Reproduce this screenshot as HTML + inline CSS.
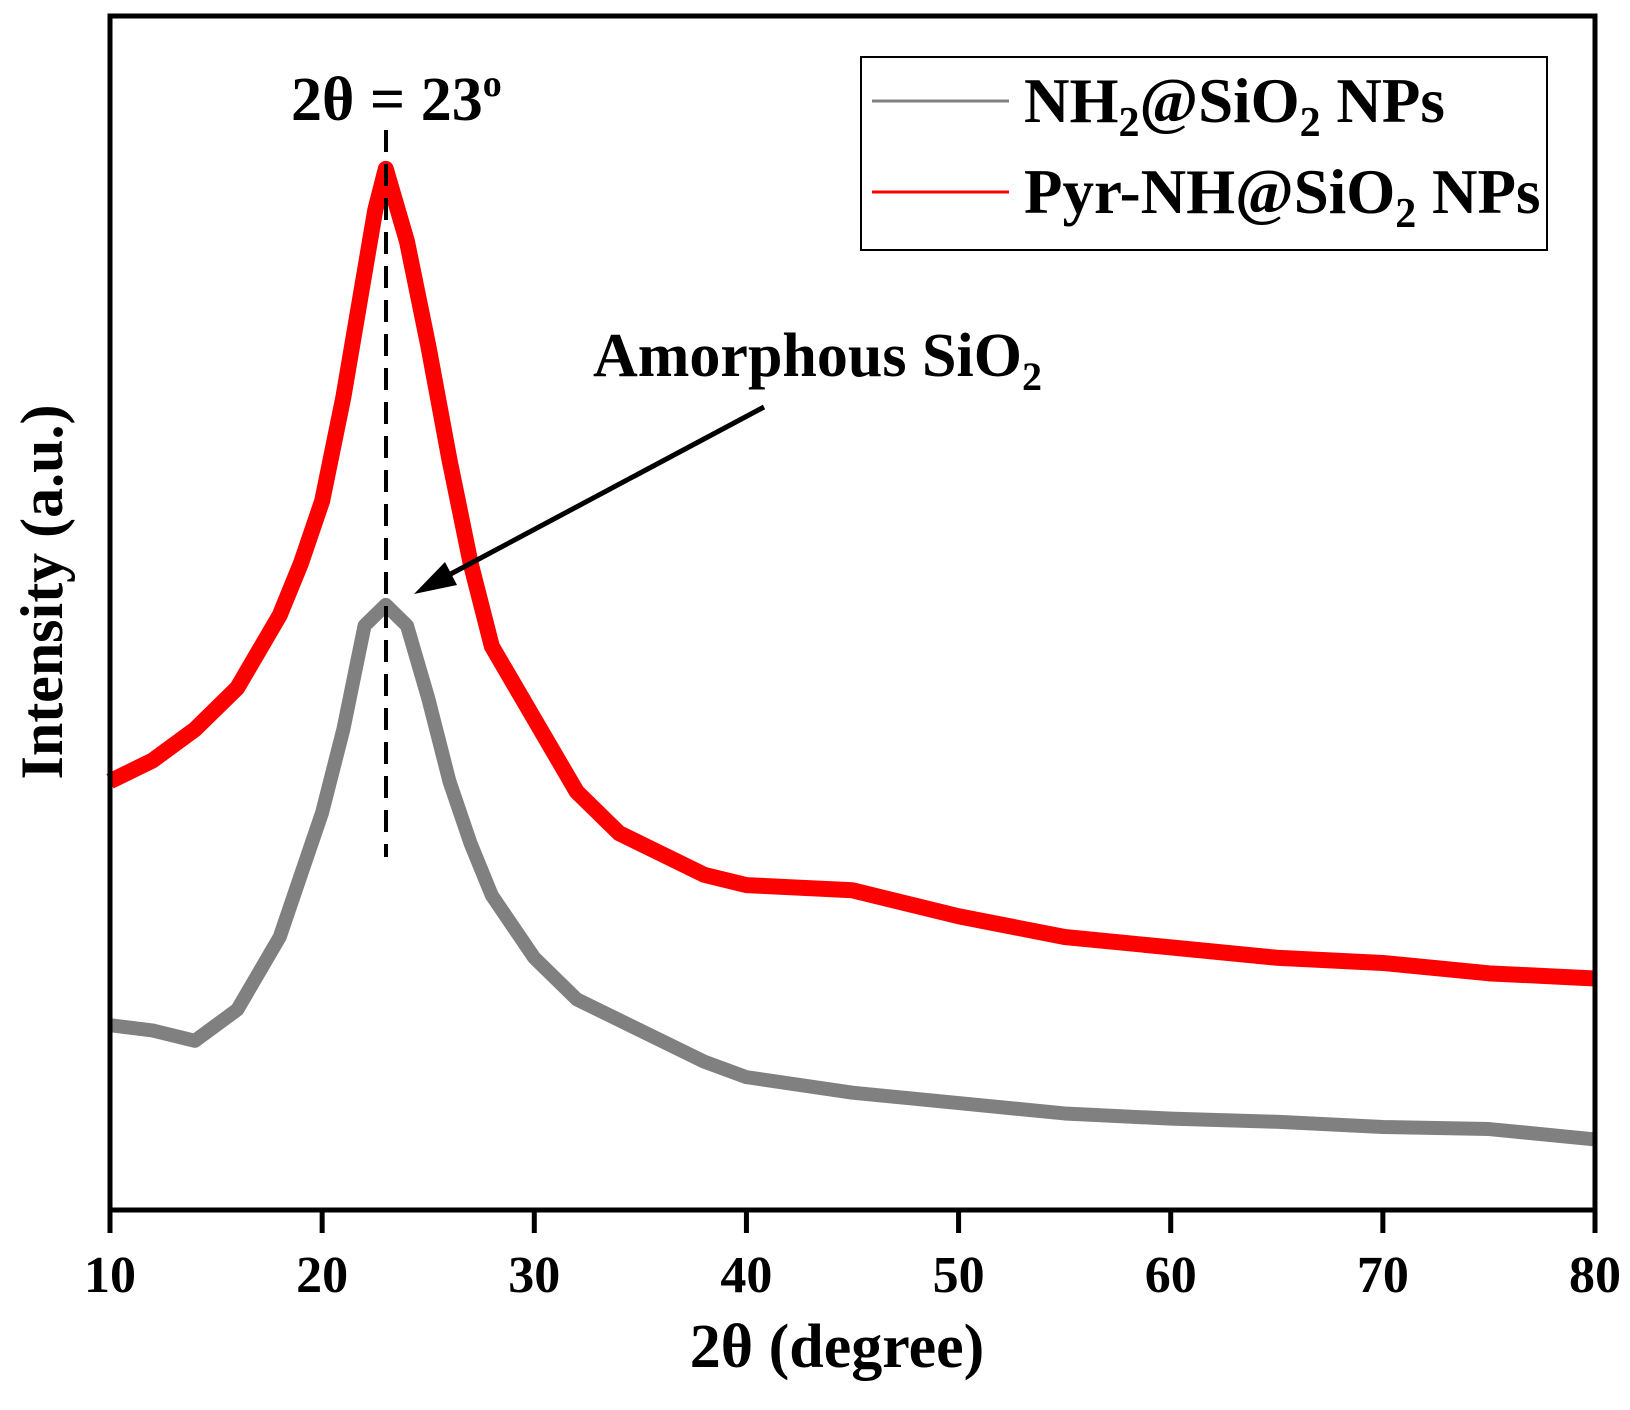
<!DOCTYPE html>
<html><head><meta charset="utf-8"><style>
body{margin:0;background:#fff}
svg text{font-family:"Liberation Serif",serif;font-weight:bold;fill:#000}
</style></head><body>
<svg width="1630" height="1405">
<g id="plot"></g>
<g id="axes"></g>
<rect x="110" y="16" width="1485" height="1194" fill="none" stroke="#000" stroke-width="5"/>
<line x1="386" y1="130" x2="386" y2="857" stroke="#000" stroke-width="4" stroke-dasharray="22,12"/>
<text x="291" y="120" font-size="62">2θ = 23<tspan dy="-24" font-size="38">o</tspan></text>
<text x="593" y="376" font-size="62">Amorphous SiO<tspan dy="14" font-size="40">2</tspan></text>
<line x1="764" y1="407" x2="430" y2="585" stroke="#000" stroke-width="5"/>
<polygon points="414,594 445,562 457,585" fill="#000"/>
<g>
<rect x="861" y="57" width="686" height="193" fill="#fff" stroke="#000" stroke-width="2"/>
<line x1="872" y1="101" x2="1009" y2="101" stroke="#808080" stroke-width="3"/>
<text x="1024" y="122" font-size="63">NH<tspan dy="14" font-size="42">2</tspan><tspan dy="-14">@SiO</tspan><tspan dy="14" font-size="42">2</tspan><tspan dy="-14"> NPs</tspan></text>
<line x1="872" y1="192" x2="1009" y2="192" stroke="#ff0000" stroke-width="3"/>
<text x="1024" y="213" font-size="63">Pyr-NH@SiO<tspan dy="14" font-size="42">2</tspan><tspan dy="-14"> NPs</tspan></text>
</g>
<text x="837" y="1367" font-size="62" text-anchor="middle">2θ (degree)</text>
<text transform="translate(62,592) rotate(-90)" font-size="60" text-anchor="middle">Intensity (a.u.)</text>
</svg>
<script>
const xTicks=[10,20,30,40,50,60,70,80];
const grayX=[10,12,14,16,18,20,21,22,23,24,25,26,27,28,30,32,35,38,40,45,50,55,60,65,70,75,80];
const grayY=[178,173,163,193,263,383,463,563,583,563,493,413,353,303,243,203,173,143,128,113,103,93,88,85,80,78,68];
const redX=[10,12,14,16,18,19,20,21,22,22.5,23,24,25,26,27,28,30,32,34,36,38,40,45,50,55,60,65,70,75,80];
const redY=[413,433,463,503,573,623,683,783,903,963,1003,933,833,723,623,543,473,403,363,343,323,313,308,283,263,253,243,238,228,223];
const X=v=>110+(v-10)*1485/70;
const Y=v=>1210-v*1.038;
const ns="http://www.w3.org/2000/svg";
const plot=document.getElementById('plot'),axes=document.getElementById('axes');
function series(xs,ys,color,w,name){
 const p=document.createElementNS(ns,'polyline');
 p.setAttribute('points',xs.map((x,i)=>X(x)+','+Y(ys[i])).join(' '));
 p.setAttribute('fill','none');p.setAttribute('stroke',color);p.setAttribute('stroke-width',w);p.setAttribute('stroke-linejoin','round');
 
 
 plot.appendChild(p);
}
series(grayX,grayY,'#808080',14,'series-nh2-sio2');
series(redX,redY,'#ff0000',16,'series-pyr-nh-sio2');
xTicks.forEach(t=>{
 const l=document.createElementNS(ns,'line');
 l.setAttribute('x1',X(t));l.setAttribute('x2',X(t));l.setAttribute('y1',1210);l.setAttribute('y2',1233);
 l.setAttribute('stroke','#000');l.setAttribute('stroke-width',5);
 
 
 axes.appendChild(l);
 const tx=document.createElementNS(ns,'text');
 tx.setAttribute('x',X(t));tx.setAttribute('y',1292);tx.setAttribute('font-size','52');tx.setAttribute('text-anchor','middle');
 tx.textContent=t;
 
 
 axes.appendChild(tx);
});
</script>
</body></html>
